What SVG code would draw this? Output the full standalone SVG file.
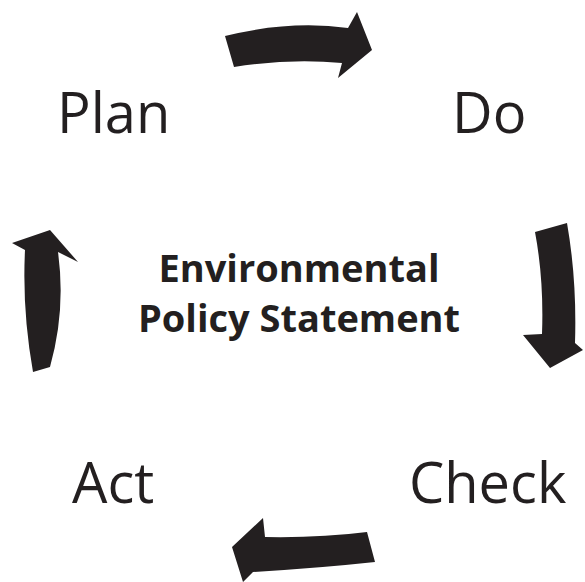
<svg xmlns="http://www.w3.org/2000/svg" width="585" height="582" viewBox="0 0 585 582">
<style>
.lbl{font-family:"Open Sans","Noto Sans",sans-serif;font-size:56px;fill:#231f20}
.ctr{font-family:"Open Sans","Noto Sans",sans-serif;font-size:38px;font-weight:bold;fill:#231f20;text-anchor:middle}
.arr{fill:#231f20}
</style>
<rect width="585" height="582" fill="#fff"/>
<g id="connectors">
<path class="arr" d="M225,36 Q290,20 348,28 L357,12 L372,50 L338,78 L342,63 Q290,58 234,67 Z"/>
<path class="arr" d="M535,232 L567,223 Q577,280 575,343 L583,350 L550,368 L523,335 L542,334 Q544,280 535,232 Z"/>
<path class="arr" d="M367,532 Q320,538 265,537 L263,518 L232,547 L243,582 L253,572 Q320,568 375,562 Z"/>
<path class="arr" d="M33,372 Q22,310 25,250 L12,243 L50,230 L78,262 L58,252 Q66,310 50,367 Z"/>
</g>
<g id="plan"><text class="lbl" x="57" y="133">Plan</text></g>
<g id="do"><text class="lbl" x="452" y="133">Do</text></g>
<g id="check"><text class="lbl" x="409" y="503">Check</text></g>
<g id="act"><text class="lbl" x="72" y="503">Act</text></g>
<g id="policy"><text class="ctr" x="299" y="282">Environmental</text><text class="ctr" x="299" y="332">Policy Statement</text></g>
</svg>
